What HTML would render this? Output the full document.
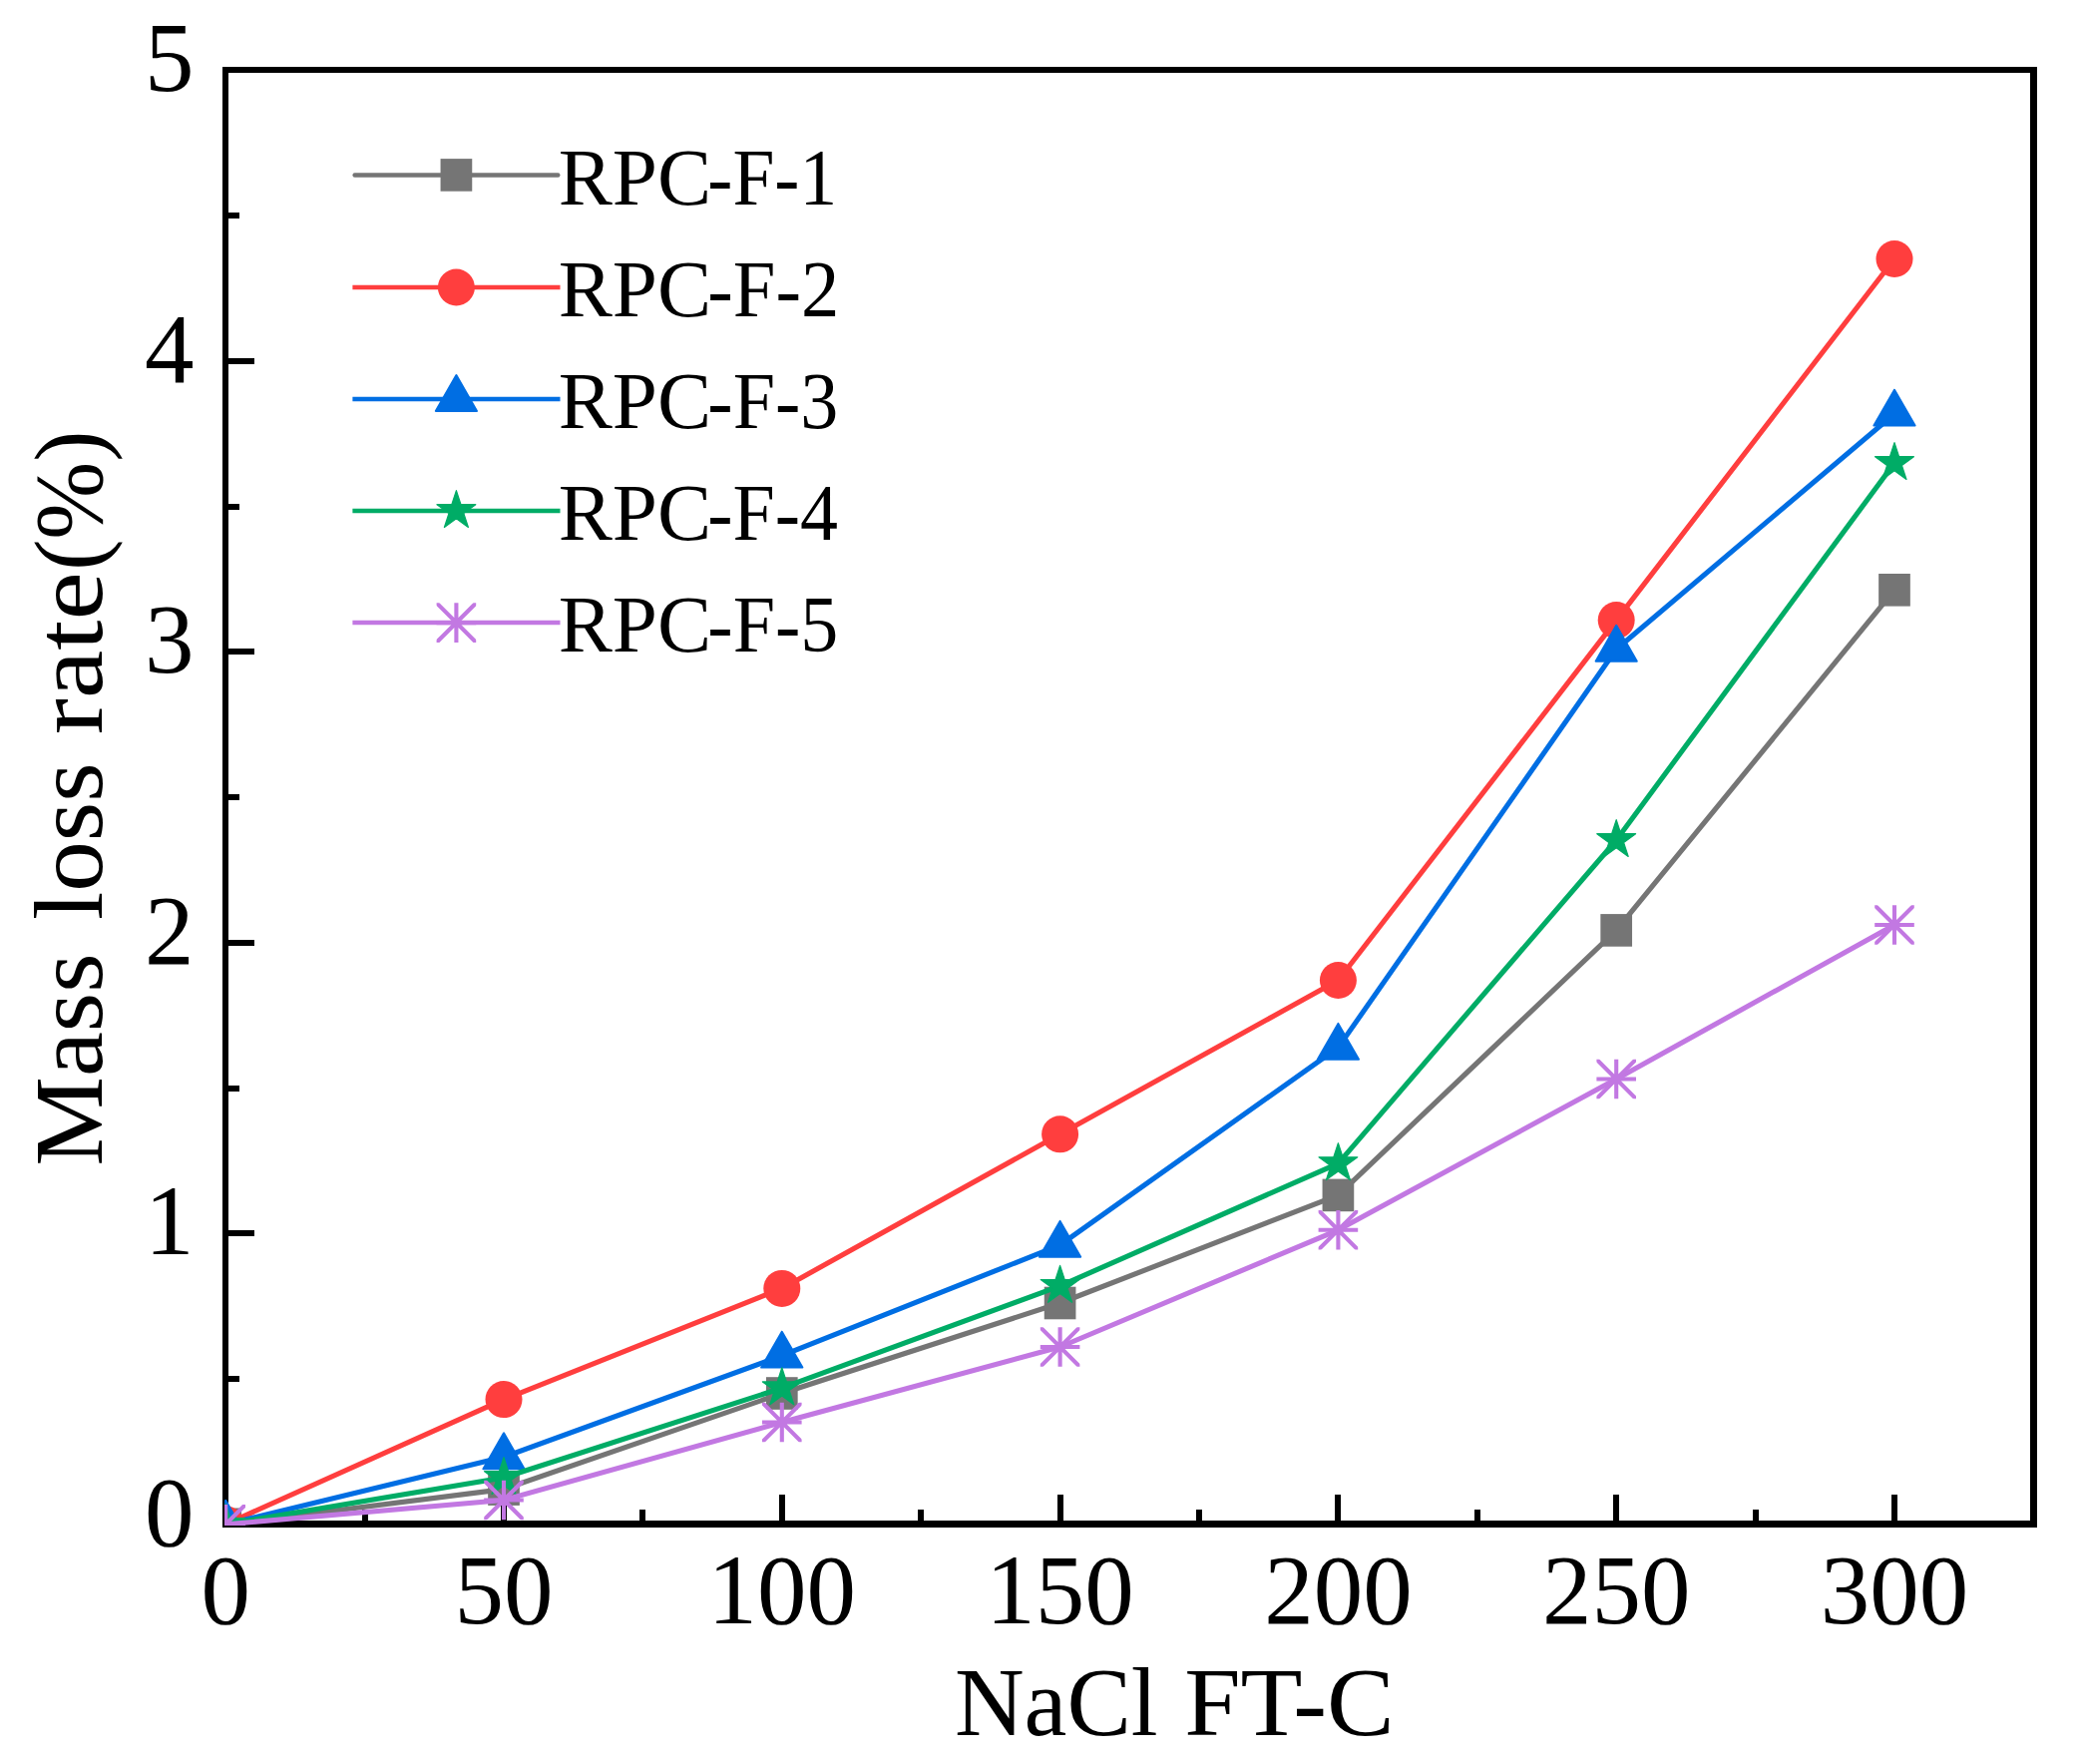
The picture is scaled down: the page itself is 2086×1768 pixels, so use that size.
<!DOCTYPE html>
<html lang="en"><head><meta charset="utf-8"><title>Mass loss rate vs NaCl FT-C</title>
<style>html,body{margin:0;padding:0;background:#fff}svg{display:block}text{font-family:"Liberation Serif", serif;fill:#000}</style></head><body>
<svg width="2086" height="1768" viewBox="0 0 2086 1768">
<rect width="2086" height="1768" fill="#fff"/>
<defs><clipPath id="plot"><rect x="225" y="69" width="1815" height="1460"/></clipPath></defs>
<path d="M223 67H2042V1531H223Z M229 73V1524H2035V73Z" fill="#000" fill-rule="evenodd"/>
<path d="M505 1527.5V1498 M784 1527.5V1498 M1063 1527.5V1498 M1341 1527.5V1498 M1620 1527.5V1498 M1899 1527.5V1498 M366 1527.5V1513 M644 1527.5V1513 M923 1527.5V1513 M1202 1527.5V1513 M1481 1527.5V1513 M1760 1527.5V1513 M226 1236H255 M226 945H255 M226 653H255 M226 362H255 M226 1382H240 M226 1091H240 M226 799H240 M226 508H240 M226 216H240" stroke="#000" stroke-width="6" fill="none"/>
<g clip-path="url(#plot)">
<polyline points="226.2,1527.8 505,1492.6 783.8,1396.5 1062.6,1306 1341.4,1197.9 1620.2,932.4 1899,591.3" fill="none" stroke="#757575" stroke-width="5.1" stroke-linejoin="round"/>
<rect x="210.35" y="1511.5" width="31.7" height="32.6" fill="#757575"/>
<rect x="489.15" y="1476.3" width="31.7" height="32.6" fill="#757575"/>
<rect x="767.95" y="1380.2" width="31.7" height="32.6" fill="#757575"/>
<rect x="1046.75" y="1289.7" width="31.7" height="32.6" fill="#757575"/>
<rect x="1325.55" y="1181.6" width="31.7" height="32.6" fill="#757575"/>
<rect x="1604.35" y="916.1" width="31.7" height="32.6" fill="#757575"/>
<rect x="1883.15" y="575" width="31.7" height="32.6" fill="#757575"/>
<polyline points="226.2,1527.8 505,1402.6 783.8,1291.4 1062.6,1136.8 1341.4,982.5 1620.2,621.6 1899,259.5" fill="none" stroke="#FF3E3E" stroke-width="5.1" stroke-linejoin="round"/>
<circle cx="226.2" cy="1527.8" r="18.5" fill="#FF3E3E"/>
<circle cx="505" cy="1402.6" r="18.5" fill="#FF3E3E"/>
<circle cx="783.8" cy="1291.4" r="18.5" fill="#FF3E3E"/>
<circle cx="1062.6" cy="1136.8" r="18.5" fill="#FF3E3E"/>
<circle cx="1341.4" cy="982.5" r="18.5" fill="#FF3E3E"/>
<circle cx="1620.2" cy="621.6" r="18.5" fill="#FF3E3E"/>
<circle cx="1899" cy="259.5" r="18.5" fill="#FF3E3E"/>
<polyline points="226.2,1527.8 505,1460.3 783.8,1358.7 1062.6,1247.9 1341.4,1049.9 1620.2,650.8 1899,414.7" fill="none" stroke="#006EE3" stroke-width="5.1" stroke-linejoin="round"/>
<polygon points="226.2,1503.8 205.6,1539.7 246.8,1539.7" fill="#006EE3" stroke="#006EE3" stroke-width="2" stroke-linejoin="round"/>
<polygon points="505,1436.3 484.4,1472.2 525.6,1472.2" fill="#006EE3" stroke="#006EE3" stroke-width="2" stroke-linejoin="round"/>
<polygon points="783.8,1334.7 763.2,1370.6 804.4,1370.6" fill="#006EE3" stroke="#006EE3" stroke-width="2" stroke-linejoin="round"/>
<polygon points="1062.6,1223.9 1042,1259.8 1083.2,1259.8" fill="#006EE3" stroke="#006EE3" stroke-width="2" stroke-linejoin="round"/>
<polygon points="1341.4,1025.9 1320.8,1061.8 1362,1061.8" fill="#006EE3" stroke="#006EE3" stroke-width="2" stroke-linejoin="round"/>
<polygon points="1620.2,626.8 1599.6,662.7 1640.8,662.7" fill="#006EE3" stroke="#006EE3" stroke-width="2" stroke-linejoin="round"/>
<polygon points="1899,390.7 1878.4,426.6 1919.6,426.6" fill="#006EE3" stroke="#006EE3" stroke-width="2" stroke-linejoin="round"/>
<polyline points="226.2,1527.8 505,1481 783.8,1391.2 1062.6,1288.8 1341.4,1166.1 1620.2,842 1899,464" fill="none" stroke="#00AC66" stroke-width="5.1" stroke-linejoin="round"/>
<polygon points="226.2,1507.4 230.78,1521.5 245.6,1521.5 233.61,1530.21 238.19,1544.3 226.2,1535.59 214.21,1544.3 218.79,1530.21 206.8,1521.5 221.62,1521.5" fill="#00AC66" stroke="#00AC66" stroke-width="1.2" stroke-linejoin="round"/>
<polygon points="505,1460.6 509.58,1474.7 524.4,1474.7 512.41,1483.41 516.99,1497.5 505,1488.79 493.01,1497.5 497.59,1483.41 485.6,1474.7 500.42,1474.7" fill="#00AC66" stroke="#00AC66" stroke-width="1.2" stroke-linejoin="round"/>
<polygon points="783.8,1370.8 788.38,1384.9 803.2,1384.9 791.21,1393.61 795.79,1407.7 783.8,1398.99 771.81,1407.7 776.39,1393.61 764.4,1384.9 779.22,1384.9" fill="#00AC66" stroke="#00AC66" stroke-width="1.2" stroke-linejoin="round"/>
<polygon points="1062.6,1268.4 1067.18,1282.5 1082,1282.5 1070.01,1291.21 1074.59,1305.3 1062.6,1296.59 1050.61,1305.3 1055.19,1291.21 1043.2,1282.5 1058.02,1282.5" fill="#00AC66" stroke="#00AC66" stroke-width="1.2" stroke-linejoin="round"/>
<polygon points="1341.4,1145.7 1345.98,1159.8 1360.8,1159.8 1348.81,1168.51 1353.39,1182.6 1341.4,1173.89 1329.41,1182.6 1333.99,1168.51 1322,1159.8 1336.82,1159.8" fill="#00AC66" stroke="#00AC66" stroke-width="1.2" stroke-linejoin="round"/>
<polygon points="1620.2,821.6 1624.78,835.7 1639.6,835.7 1627.61,844.41 1632.19,858.5 1620.2,849.79 1608.21,858.5 1612.79,844.41 1600.8,835.7 1615.62,835.7" fill="#00AC66" stroke="#00AC66" stroke-width="1.2" stroke-linejoin="round"/>
<polygon points="1899,443.6 1903.58,457.7 1918.4,457.7 1906.41,466.41 1910.99,480.5 1899,471.79 1887.01,480.5 1891.59,466.41 1879.6,457.7 1894.42,457.7" fill="#00AC66" stroke="#00AC66" stroke-width="1.2" stroke-linejoin="round"/>
<polyline points="226.2,1527.8 505,1503.5 783.8,1425.5 1062.6,1350 1341.4,1232.8 1620.2,1081.5 1899,927" fill="none" stroke="#C278E2" stroke-width="5.1" stroke-linejoin="round"/>
<svg x="206.4" y="1508" width="39.6" height="39.6"><path d="M19.8 -6.2V45.8 M-6.2 19.8H45.8 M-6.2 -6.2L45.8 45.8 M-6.2 45.8L45.8 -6.2" fill="none" stroke="#C278E2" stroke-width="4.1"/></svg>
<svg x="485.2" y="1483.7" width="39.6" height="39.6"><path d="M19.8 -6.2V45.8 M-6.2 19.8H45.8 M-6.2 -6.2L45.8 45.8 M-6.2 45.8L45.8 -6.2" fill="none" stroke="#C278E2" stroke-width="4.1"/></svg>
<svg x="764" y="1405.7" width="39.6" height="39.6"><path d="M19.8 -6.2V45.8 M-6.2 19.8H45.8 M-6.2 -6.2L45.8 45.8 M-6.2 45.8L45.8 -6.2" fill="none" stroke="#C278E2" stroke-width="4.1"/></svg>
<svg x="1042.8" y="1330.2" width="39.6" height="39.6"><path d="M19.8 -6.2V45.8 M-6.2 19.8H45.8 M-6.2 -6.2L45.8 45.8 M-6.2 45.8L45.8 -6.2" fill="none" stroke="#C278E2" stroke-width="4.1"/></svg>
<svg x="1321.6" y="1213" width="39.6" height="39.6"><path d="M19.8 -6.2V45.8 M-6.2 19.8H45.8 M-6.2 -6.2L45.8 45.8 M-6.2 45.8L45.8 -6.2" fill="none" stroke="#C278E2" stroke-width="4.1"/></svg>
<svg x="1600.4" y="1061.7" width="39.6" height="39.6"><path d="M19.8 -6.2V45.8 M-6.2 19.8H45.8 M-6.2 -6.2L45.8 45.8 M-6.2 45.8L45.8 -6.2" fill="none" stroke="#C278E2" stroke-width="4.1"/></svg>
<svg x="1879.2" y="907.2" width="39.6" height="39.6"><path d="M19.8 -6.2V45.8 M-6.2 19.8H45.8 M-6.2 -6.2L45.8 45.8 M-6.2 45.8L45.8 -6.2" fill="none" stroke="#C278E2" stroke-width="4.1"/></svg>
</g>
<line x1="355.65" y1="175.4" x2="559.25" y2="175.4" stroke="#757575" stroke-width="4.5" stroke-linecap="round"/>
<rect x="441.55" y="159.1" width="31.7" height="32.6" fill="#757575"/>
<text y="205.1" font-size="79.5"><tspan x="559.7" textLength="153.3" lengthAdjust="spacingAndGlyphs">RPC</tspan><tspan x="709.3" textLength="129.8" lengthAdjust="spacingAndGlyphs">-F-1</tspan></text>
<line x1="353.4" y1="288" x2="561.5" y2="288" stroke="#FF3E3E" stroke-width="4.5"/>
<circle cx="457.4" cy="288" r="18.5" fill="#FF3E3E"/>
<text y="317.15" font-size="79.5"><tspan x="559.7" textLength="153.3" lengthAdjust="spacingAndGlyphs">RPC</tspan><tspan x="709.3" textLength="132" lengthAdjust="spacingAndGlyphs">-F-2</tspan></text>
<line x1="353.4" y1="400" x2="561.5" y2="400" stroke="#006EE3" stroke-width="4.5"/>
<polygon points="457.4,376 436.8,411.9 478,411.9" fill="#006EE3" stroke="#006EE3" stroke-width="2" stroke-linejoin="round"/>
<text y="429.2" font-size="79.5"><tspan x="559.7" textLength="153.3" lengthAdjust="spacingAndGlyphs">RPC</tspan><tspan x="709.3" textLength="131.1" lengthAdjust="spacingAndGlyphs">-F-3</tspan></text>
<line x1="353.4" y1="512" x2="561.5" y2="512" stroke="#00AC66" stroke-width="4.5"/>
<polygon points="457.4,491.6 461.98,505.7 476.8,505.7 464.81,514.41 469.39,528.5 457.4,519.79 445.41,528.5 449.99,514.41 438,505.7 452.82,505.7" fill="#00AC66" stroke="#00AC66" stroke-width="1.2" stroke-linejoin="round"/>
<text y="541.25" font-size="79.5"><tspan x="559.7" textLength="153.3" lengthAdjust="spacingAndGlyphs">RPC</tspan><tspan x="709.3" textLength="130.8" lengthAdjust="spacingAndGlyphs">-F-4</tspan></text>
<line x1="353.4" y1="624.1" x2="561.5" y2="624.1" stroke="#C278E2" stroke-width="4.5"/>
<svg x="437.6" y="604.3" width="39.6" height="39.6"><path d="M19.8 -6.2V45.8 M-6.2 19.8H45.8 M-6.2 -6.2L45.8 45.8 M-6.2 45.8L45.8 -6.2" fill="none" stroke="#C278E2" stroke-width="4.1"/></svg>
<text y="653.3" font-size="79.5"><tspan x="559.7" textLength="153.3" lengthAdjust="spacingAndGlyphs">RPC</tspan><tspan x="709.3" textLength="131.1" lengthAdjust="spacingAndGlyphs">-F-5</tspan></text>
<text x="194.5" y="1548.8" font-size="99" text-anchor="end">0</text>
<text x="194.5" y="1257.3" font-size="99" text-anchor="end">1</text>
<text x="194.5" y="965.8" font-size="99" text-anchor="end">2</text>
<text x="194.5" y="674.3" font-size="99" text-anchor="end">3</text>
<text x="194.5" y="382.8" font-size="99" text-anchor="end">4</text>
<text x="194.5" y="91.3" font-size="99" text-anchor="end">5</text>
<text x="226.2" y="1627.3" font-size="99" text-anchor="middle">0</text>
<text x="505" y="1627.3" font-size="99" text-anchor="middle">50</text>
<text x="783.8" y="1627.3" font-size="99" text-anchor="middle">100</text>
<text x="1062.6" y="1627.3" font-size="99" text-anchor="middle">150</text>
<text x="1341.4" y="1627.3" font-size="99" text-anchor="middle">200</text>
<text x="1620.2" y="1627.3" font-size="99" text-anchor="middle">250</text>
<text x="1899" y="1627.3" font-size="99" text-anchor="middle">300</text>
<text y="1739" font-size="97.5"><tspan x="956.9" textLength="203.8" lengthAdjust="spacingAndGlyphs">NaCl</tspan> <tspan x="1187.2" textLength="210.4" lengthAdjust="spacingAndGlyphs">FT-C</tspan></text>
<text transform="translate(102 0) rotate(-90)" y="0" font-size="97.5"><tspan x="-1168.7" textLength="213.1" lengthAdjust="spacingAndGlyphs">Mass</tspan> <tspan x="-922" textLength="157.8" lengthAdjust="spacingAndGlyphs">loss</tspan> <tspan x="-736.2" textLength="162.9" lengthAdjust="spacingAndGlyphs">rate</tspan><tspan x="-571.8" textLength="140.3" lengthAdjust="spacingAndGlyphs">(%)</tspan></text>
</svg></body></html>
